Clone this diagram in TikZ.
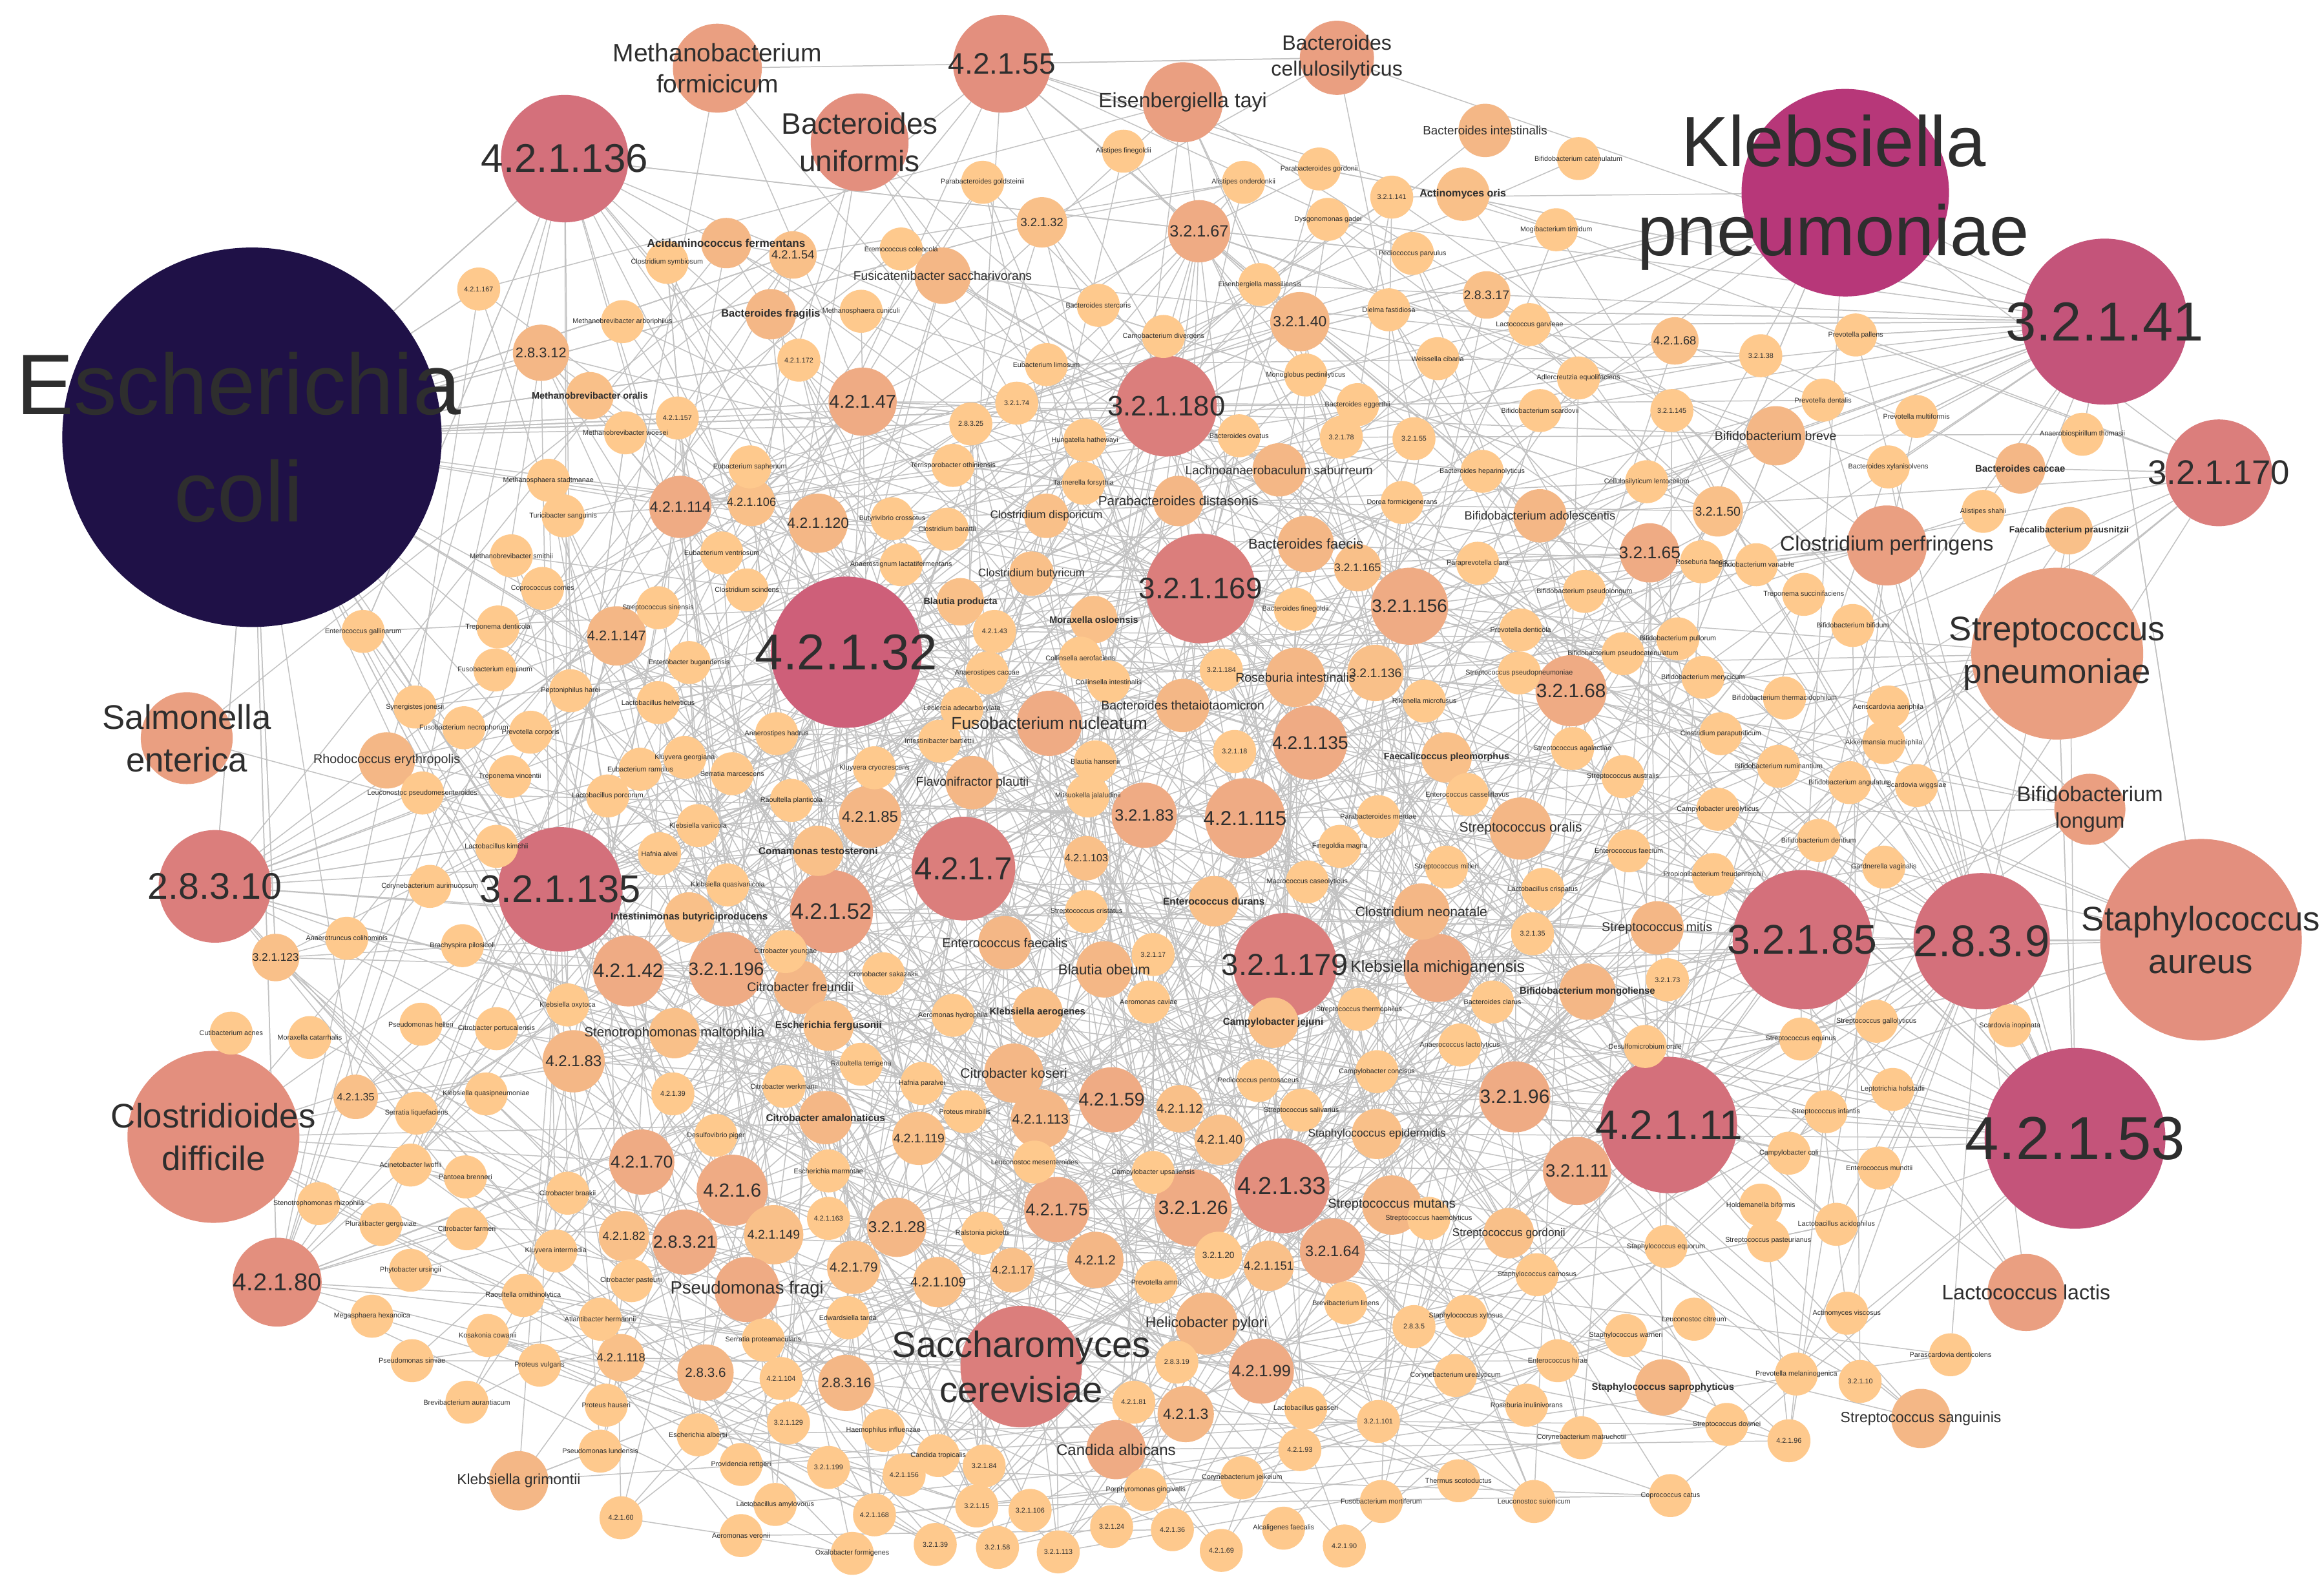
\documentclass[tikz,border=0pt]{standalone}
\usepackage{fontspec}
\setmainfont{Liberation Sans}
\pgfdeclarelayer{bglayer}
\pgfdeclarelayer{edgelayer}
\pgfsetlayers{bglayer,edgelayer,main}
\definecolor{c0}{HTML}{1F1147}
\definecolor{c1}{HTML}{B73779}
\definecolor{c2}{HTML}{C4547A}
\definecolor{c3}{HTML}{CE5F79}
\definecolor{c4}{HTML}{D4707B}
\definecolor{c5}{HTML}{DB7E7C}
\definecolor{c6}{HTML}{E38F7E}
\definecolor{c7}{HTML}{EA9F81}
\definecolor{c8}{HTML}{EFAB84}
\definecolor{c9}{HTML}{F4B786}
\definecolor{c10}{HTML}{F9C089}
\definecolor{c11}{HTML}{FEC98D}
\definecolor{edgecol}{HTML}{C2C2C2}
\definecolor{txt}{HTML}{2E2E2E}
\tikzset{
  bub/.style={circle, draw=none, inner sep=0pt, outer sep=0pt},
  lbl/.style={inner sep=0pt, align=center, text=txt},
  edge/.style={draw=edgecol, line width=0.65pt},
}
\newcount\ncnt \newcount\ecnt \newcount\scnt
% [label x-shift] x y r colour fontsize type(e/s) label
\newcommand\placenode[8][0]{%
  \global\advance\ncnt by 1\relax
  \edef\curname{n\the\ncnt}%
  \node[bub, fill=#5, minimum size={2*#4pt}] (\curname) at (#2,#3) {};
  \expandafter\xdef\csname NX\the\ncnt\endcsname{#2}%
  \expandafter\xdef\csname NY\the\ncnt\endcsname{#3}%
  \expandafter\xdef\csname NLX\the\ncnt\endcsname{\the\numexpr#2+#1\relax}%
  \expandafter\xdef\csname NT\the\ncnt\endcsname{#7}%
  \expandafter\xdef\csname NF\the\ncnt\endcsname{#6}%
  \expandafter\gdef\csname NL\the\ncnt\endcsname{#8}%
  \pgfmathtruncatemacro\wt{max(1,round((#4/15)^2))}%
  \foreach \k in {1,...,\wt}{%
    \if#7e\global\advance\ecnt by 1\relax
      \expandafter\xdef\csname E\the\ecnt\endcsname{\the\ncnt}%
    \else\global\advance\scnt by 1\relax
      \expandafter\xdef\csname S\the\scnt\endcsname{\the\ncnt}\fi}%
}
\newcommand\sn[4]{\placenode{#1}{#2}{14.5}{c11}{4.7}{#3}{#4}}
\begin{document}
\begin{tikzpicture}[x=1pt,y=-1pt]
\begin{pgfonlayer}{bglayer}
\path[use as bounding box, fill=white] (0,0) rectangle (1568,1075);
\end{pgfonlayer}
% ---------- large and medium nodes ----------
\placenode[-9]{170}{295}{128}{c0}{58}{s}{Escherichia\\coli}
\placenode[-8]{1245}{130}{70}{c1}{48}{s}{Klebsiella\\pneumoniae}
\placenode{1420}{217}{56}{c2}{37}{e}{3.2.1.41}
\placenode{1400}{768}{61}{c2}{41}{e}{4.2.1.53}
\placenode{571}{440}{51}{c3}{34}{e}{4.2.1.32}
\placenode{381}{107}{43}{c4}{27}{e}{4.2.1.136}
\placenode{378}{600}{42}{c4}{26}{e}{3.2.1.135}
\placenode{145}{598}{38}{c5}{25}{e}{2.8.3.10}
\placenode{1216}{634}{47}{c4}{28}{e}{3.2.1.85}
\placenode{1337}{635}{46}{c4}{30}{e}{2.8.3.9}
\placenode{1126}{759}{46}{c4}{28}{e}{4.2.1.11}
\placenode{1497}{319}{36}{c5}{23}{e}{3.2.1.170}
\placenode{689}{922}{41}{c5}{24.5}{s}{Saccharomyces\\cerevisiae}
\placenode{1485}{634}{68}{c6}{23}{s}{Staphylococcus\\aureus}
\placenode{144}{767}{58}{c6}{23}{s}{Clostridioides\\difficile}
\placenode{1388}{441}{58}{c7}{23}{s}{Streptococcus\\pneumoniae}
\placenode{126}{498}{31}{c7}{23}{s}{Salmonella\\enterica}
\placenode{484}{46}{30}{c7}{17}{s}{Methanobacterium\\formicicum}
\placenode{676}{43}{33}{c6}{20}{e}{4.2.1.55}
\placenode{580}{96}{33}{c6}{20}{s}{Bacteroides\\uniformis}
\placenode{798}{69}{27}{c7}{14}{s}{Eisenbergiella tayi}
\placenode{902}{39}{25}{c7}{14}{s}{Bacteroides\\cellulosilyticus}
\placenode{787}{274}{34}{c5}{19}{e}{3.2.1.180}
\placenode{810}{397}{37}{c5}{20}{e}{3.2.1.169}
\placenode{650}{586}{35}{c5}{21.5}{e}{4.2.1.7}
\placenode{867}{651}{35}{c5}{20.5}{e}{3.2.1.179}
\placenode{561}{615}{28}{c7}{15}{e}{4.2.1.52}
\placenode{865}{800}{32}{c6}{16.5}{e}{4.2.1.33}
\placenode{1367}{872}{26}{c7}{14}{s}{Lactococcus lactis}
\placenode{1410}{546}{24}{c7}{14.3}{s}{Bifidobacterium\\longum}
\placenode{1273}{368}{27}{c7}{14}{s}{Clostridium perfringens}
\placenode{187}{865}{30}{c6}{16.5}{e}{4.2.1.80}
\placenode{851}{925}{22}{c8}{11}{e}{4.2.1.99}
\placenode{1296}{957}{20}{c9}{10}{s}{Streptococcus sanguinis}
\placenode{350}{999}{20}{c9}{10}{s}{Klebsiella grimontii}
\placenode{753}{978}{20}{c8}{10.5}{s}{Candida albicans}
\placenode{1022}{740}{24}{c8}{13}{e}{3.2.1.96}
\placenode{1064}{790}{23}{c8}{12}{e}{3.2.1.11}
\placenode{582}{271}{23}{c8}{12.5}{e}{4.2.1.47}
\placenode{809}{156}{21}{c8}{11}{e}{3.2.1.67}
\placenode{877}{217}{20}{c9}{10}{e}{3.2.1.40}
\placenode{365}{238}{19}{c9}{9.5}{e}{2.8.3.12}
\placenode{459}{342}{21}{c8}{10}{e}{4.2.1.114}
\placenode{552}{353}{20}{c9}{10}{e}{4.2.1.120}
\placenode{416}{429}{20}{c9}{9.5}{e}{4.2.1.147}
\placenode{881}{367}{19}{c9}{9.5}{s}{Bacteroides faecis}
\placenode{951}{409}{26}{c8}{12.2}{e}{3.2.1.156}
\placenode{1113}{373}{20}{c8}{11.5}{e}{3.2.1.65}
\placenode{1060}{466}{24}{c8}{13}{e}{3.2.1.68}
\placenode{884}{501}{25}{c8}{12.3}{e}{4.2.1.135}
\placenode{840}{552}{27}{c8}{13.7}{e}{4.2.1.115}
\placenode{772}{550}{22}{c8}{11}{e}{3.2.1.83}
\placenode{587}{551}{21}{c9}{10.5}{e}{4.2.1.85}
\placenode{1026}{559}{21}{c9}{9.2}{s}{Streptococcus oralis}
\placenode{970}{653}{23}{c8}{10.8}{s}{Klebsiella michiganensis}
\placenode{959}{615}{19}{c9}{9.2}{s}{Clostridium neonatale}
\placenode{1118}{626}{18}{c9}{8.6}{s}{Streptococcus mitis}
\placenode{424}{655}{24}{c8}{13}{e}{4.2.1.42}
\placenode{490}{654}{25}{c8}{12.2}{e}{3.2.1.196}
\placenode{387}{716}{21}{c9}{10.5}{e}{4.2.1.83}
\placenode{433}{784}{22}{c8}{11.6}{e}{4.2.1.70}
\placenode{494}{803}{24}{c8}{12.8}{e}{4.2.1.6}
\placenode{462}{838}{22}{c8}{11.8}{e}{2.8.3.21}
\placenode{421}{834}{17}{c10}{8}{e}{4.2.1.82}
\placenode{522}{833}{20}{c10}{8.5}{e}{4.2.1.149}
\placenode{576}{855}{18}{c10}{9}{e}{4.2.1.79}
\placenode{605}{828}{20}{c9}{10.6}{e}{3.2.1.28}
\placenode{633}{865}{17}{c10}{9}{e}{4.2.1.109}
\placenode{504}{870}{22}{c8}{12}{s}{Pseudomonas fragi}
\placenode{476}{926}{19}{c9}{9}{e}{2.8.3.6}
\placenode{571}{933}{19}{c9}{9.3}{e}{2.8.3.16}
\placenode{419}{916}{16}{c10}{8}{e}{4.2.1.118}
\placenode{620}{768}{18}{c10}{8.4}{e}{4.2.1.119}
\placenode{702}{755}{20}{c9}{9.3}{e}{4.2.1.113}
\placenode{750}{742}{22}{c8}{12.3}{e}{4.2.1.59}
\placenode{713}{816}{22}{c8}{11.6}{e}{4.2.1.75}
\placenode{739}{850}{19}{c9}{9}{e}{4.2.1.2}
\placenode{683}{857}{15}{c10}{7.5}{e}{4.2.1.17}
\placenode{796}{748}{16}{c10}{8.5}{e}{4.2.1.12}
\placenode{823}{769}{17}{c10}{8.5}{e}{4.2.1.40}
\placenode{805}{815}{26}{c8}{13}{e}{3.2.1.26}
\placenode{899}{844}{22}{c8}{10.2}{e}{3.2.1.64}
\placenode{856}{854}{17}{c10}{8}{e}{4.2.1.151}
\placenode{822}{847}{16}{c11}{6}{e}{3.2.1.20}
\placenode{814}{893}{21}{c9}{10}{s}{Helicobacter pylori}
\placenode{800}{954}{19}{c9}{10}{e}{4.2.1.3}
\placenode{939}{813}{20}{c9}{8.7}{s}{Streptococcus mutans}
\placenode{240}{740}{15}{c10}{7}{e}{4.2.1.35}
\placenode{186}{646}{16}{c10}{7.5}{e}{3.2.1.123}
\placenode{261}{513}{19}{c9}{8.6}{s}{Rhodococcus erythropolis}
\placenode{465}{619}{17}{c10}{6.6}{s}{\bfseries Intestinimonas butyriciproducens}
\placenode{455}{697}{17}{c10}{9}{s}{Stenotrophomonas maltophilia}
\placenode{535}{172}{16}{c10}{8}{e}{4.2.1.54}
\placenode{703}{150}{17}{c10}{8}{e}{3.2.1.32}
\placenode{1003}{199}{16}{c10}{8.5}{e}{2.8.3.17}
\placenode{1130}{230}{16}{c10}{8}{e}{4.2.1.68}
\placenode{1159}{345}{17}{c10}{8.5}{e}{3.2.1.50}
\placenode{507}{339}{16}{c10}{8}{e}{4.2.1.106}
\placenode{636}{186}{19}{c9}{8.4}{s}{Fusicatenibacter saccharivorans}
\placenode{520}{212}{17}{c9}{7.2}{s}{\bfseries Bacteroides fragilis}
\placenode{863}{317}{18}{c9}{8.3}{s}{Lachnoanaerobaculum saburreum}
\placenode{1039}{348}{18}{c9}{8}{s}{Bifidobacterium adolescentis}
\placenode{1198}{294}{20}{c9}{8.5}{s}{Bifidobacterium breve}
\placenode{798}{476}{18}{c9}{8.5}{s}{Bacteroides thetaiotaomicron}
\placenode{708}{488}{22}{c8}{11.5}{s}{Fusobacterium nucleatum}
\placenode{656}{528}{18}{c9}{8.5}{s}{Flavonifractor plautii}
\placenode{552}{574}{17}{c10}{6.7}{s}{\bfseries Comamonas testosteroni}
\placenode{678}{636}{18}{c9}{8.7}{s}{Enterococcus faecalis}
\placenode{745}{654}{19}{c9}{9.7}{s}{Blautia obeum}
\placenode{540}{666}{18}{c9}{8.5}{s}{Citrobacter freundii}
\placenode{559}{692}{17}{c10}{6.7}{s}{\bfseries Escherichia fergusonii}
\placenode{700}{683}{17}{c10}{6.5}{s}{\bfseries Klebsiella aerogenes}
\placenode{819}{608}{17}{c10}{6.7}{s}{\bfseries Enterococcus durans}
\placenode{859}{690}{17}{c10}{6.7}{s}{\bfseries Campylobacter jejuni}
\placenode{684}{724}{20}{c9}{9.2}{s}{Citrobacter koseri}
\placenode{557}{754}{18}{c9}{6.7}{s}{\bfseries Citrobacter amalonaticus}
\placenode{874}{457}{20}{c9}{8.5}{s}{Roseburia intestinalis}
\placenode{738}{418}{16}{c10}{6.3}{s}{\bfseries Moraxella osloensis}
\placenode{648}{406}{16}{c10}{6.3}{s}{\bfseries Blautia producta}
\placenode{976}{511}{17}{c10}{6.3}{s}{\bfseries Faecalicoccus pleomorphus}
\placenode{1071}{669}{19}{c9}{6.5}{s}{\bfseries Bifidobacterium mongoliense}
\placenode{1122}{936}{19}{c9}{6.5}{s}{\bfseries Staphylococcus saprophyticus}
\placenode{398}{267}{16}{c10}{6.3}{s}{\bfseries Methanobrevibacter oralis}
\placenode{987}{131}{18}{c10}{7}{s}{\bfseries Actinomyces oris}
\placenode{1002}{88}{18}{c9}{8.2}{s}{Bacteroides intestinalis}
\placenode{1363}{316}{17}{c9}{6.5}{s}{\bfseries Bacteroides caccae}
\placenode{1396}{358}{16}{c10}{6}{s}{\bfseries Faecalibacterium prausnitzii}
\placenode{490}{164}{17}{c9}{7.5}{s}{\bfseries Acidaminococcus fermentans}
\placenode{706}{348}{15}{c10}{7.5}{s}{Clostridium disporicum}
\placenode{795}{338}{17}{c9}{9}{s}{Parabacteroides distasonis}
\placenode{916}{383}{16}{c10}{7.5}{e}{3.2.1.165}
\placenode{928}{454}{19}{c10}{8.5}{e}{3.2.1.136}
\placenode{733}{579}{15}{c10}{7}{e}{4.2.1.103}
\placenode{1018}{832}{17}{c10}{7.5}{s}{Streptococcus gordonii}
\placenode{929}{765}{17}{c10}{7.5}{s}{Staphylococcus epidermidis}
\placenode{696}{387}{15}{c10}{7.5}{s}{Clostridium butyricum}
% ---------- small nodes ----------
\sn{323}{195}{e}{4.2.1.167}
\sn{370}{324}{s}{Methanosphaera stadtmanae}
\sn{380}{348}{s}{Turicibacter sanguinis}
\sn{758}{102}{s}{Alistipes finegoldii}
\sn{663}{123}{s}{Parabacteroides goldsteinii}
\sn{450}{177}{s}{Clostridium symbiosum}
\sn{608}{168}{s}{Eremococcus coleocola}
\sn{581}{210}{s}{Methanosphaera cuniculi}
\sn{420}{217}{s}{Methanobrevibacter arboriphilus}
\sn{741}{206}{s}{Bacteroides stercoris}
\sn{785}{227}{s}{Carnobacterium divergens}
\sn{539}{243}{e}{4.2.1.172}
\sn{706}{246}{s}{Eubacterium limosum}
\sn{686}{272}{e}{3.2.1.74}
\sn{655}{286}{e}{2.8.3.25}
\sn{732}{297}{s}{Hungatella hathewayi}
\sn{457}{282}{e}{4.2.1.157}
\sn{422}{292}{s}{Methanobrevibacter woesei}
\sn{506}{315}{s}{Eubacterium saphenum}
\sn{643}{314}{s}{Terrisporobacter othiniensis}
\sn{731}{326}{s}{Tannerella forsythia}
\sn{602}{350}{s}{Butyrivibrio crossotus}
\sn{639}{357}{s}{Clostridium barattii}
\sn{1065}{107}{s}{Bifidobacterium catenulatum}
\sn{839}{123}{s}{Alistipes onderdonkii}
\sn{890}{114}{s}{Parabacteroides gordonii}
\sn{939}{133}{e}{3.2.1.141}
\sn{896}{148}{s}{Dysgonomonas gadei}
\sn{1050}{155}{s}{Mogibacterium timidum}
\sn{953}{171}{s}{Pediococcus parvulus}
\sn{850}{192}{s}{Eisenbergiella massiliensis}
\sn{937}{209}{s}{Dielma fastidiosa}
\sn{1032}{219}{s}{Lactococcus garvieae}
\sn{970}{242}{s}{Weissella cibaria}
\sn{881}{253}{s}{Monoglobus pectinilyticus}
\sn{1065}{255}{s}{Adlercreutzia equolifaciens}
\sn{916}{273}{s}{Bacteroides eggerthii}
\sn{1039}{277}{s}{Bifidobacterium scardovii}
\sn{1128}{277}{e}{3.2.1.145}
\sn{836}{294}{s}{Bacteroides ovatus}
\sn{905}{295}{e}{3.2.1.78}
\sn{954}{296}{e}{3.2.1.55}
\sn{1000}{318}{s}{Bacteroides heparinolyticus}
\sn{1111}{325}{s}{Cellulosilyticum lentocellum}
\sn{946}{339}{s}{Dorea formicigenerans}
\sn{1188}{240}{e}{3.2.1.38}
\sn{1252}{226}{s}{Prevotella pallens}
\sn{1230}{270}{s}{Prevotella dentalis}
\sn{1293}{281}{s}{Prevotella multiformis}
\sn{1405}{293}{s}{Anaerobiospirillum thomasii}
\sn{1274}{315}{s}{Bacteroides xylanisolvens}
\sn{1338}{345}{s}{Alistipes shahii}
\sn{345}{375}{s}{Methanobrevibacter smithii}
\sn{366}{397}{s}{Coprococcus comes}
\sn{245}{426}{s}{Enterococcus gallinarum}
\sn{336}{423}{s}{Treponema denticola}
\sn{334}{452}{s}{Fusobacterium equinum}
\sn{385}{466}{s}{Peptoniphilus harei}
\sn{280}{477}{s}{Synergistes jonesii}
\sn{313}{491}{s}{Fusobacterium necrophorum}
\sn{358}{494}{s}{Prevotella corporis}
\sn{344}{524}{s}{Treponema vincentii}
\sn{285}{535}{s}{Leuconostoc pseudomesenteroides}
\sn{335}{571}{s}{Lactobacillus kimchii}
\sn{290}{598}{s}{Corynebacterium aurimucosum}
\sn{234}{633}{s}{Anaerotruncus colihominis}
\sn{312}{638}{s}{Brachyspira pilosicoli}
\sn{156}{697}{s}{Cutibacterium acnes}
\sn{209}{700}{s}{Moraxella catarrhalis}
\sn{284}{691}{s}{Pseudomonas helleri}
\sn{335}{694}{s}{Citrobacter portucalensis}
\sn{383}{678}{s}{Klebsiella oxytoca}
\sn{487}{373}{s}{Eubacterium ventriosum}
\sn{608}{381}{s}{Anaerostignum lactatifermentans}
\sn{504}{398}{s}{Clostridium scindens}
\sn{444}{410}{s}{Streptococcus sinensis}
\sn{671}{426}{e}{4.2.1.43}
\sn{729}{444}{s}{Collinsella aerofaciens}
\sn{748}{460}{s}{Collinsella intestinalis}
\sn{465}{447}{s}{Enterobacter bugandensis}
\sn{666}{454}{s}{Anaerostipes caccae}
\sn{444}{474}{s}{Lactobacillus helveticus}
\sn{649}{478}{s}{Leclercia adecarboxylata}
\sn{524}{495}{s}{Anaerostipes hadrus}
\sn{634}{500}{s}{Intestinibacter bartlettii}
\sn{462}{511}{s}{Kluyvera georgiana}
\sn{432}{519}{s}{Eubacterium ramulus}
\sn{494}{522}{s}{Serratia marcescens}
\sn{590}{518}{s}{Kluyvera cryocrescens}
\sn{739}{514}{s}{Blautia hansenii}
\sn{410}{537}{s}{Lactobacillus porcorum}
\sn{534}{540}{s}{Raoultella planticola}
\sn{734}{537}{s}{Mitsuokella jalaludinii}
\sn{471}{557}{s}{Klebsiella variicola}
\sn{445}{576}{s}{Hafnia alvei}
\sn{491}{597}{s}{Klebsiella quasivariicola}
\sn{733}{615}{s}{Streptococcus cristatus}
\sn{530}{642}{s}{Citrobacter youngae}
\sn{596}{657}{s}{Cronobacter sakazakii}
\sn{778}{644}{e}{3.2.1.17}
\sn{643}{685}{s}{Aeromonas hydrophila}
\sn{775}{676}{s}{Aeromonas caviae}
\sn{997}{380}{s}{Paraprevotella clara}
\sn{1148}{379}{s}{Roseburia faecis}
\sn{874}{411}{s}{Bacteroides finegoldii}
\sn{1069}{399}{s}{Bifidobacterium pseudolongum}
\sn{1026}{425}{s}{Prevotella denticola}
\sn{1132}{431}{s}{Bifidobacterium pullorum}
\sn{1095}{441}{s}{Bifidobacterium pseudocatenulatum}
\sn{1149}{457}{s}{Bifidobacterium merycicum}
\sn{824}{452}{e}{3.2.1.184}
\sn{1025}{454}{s}{Streptococcus pseudopneumoniae}
\sn{961}{473}{s}{Rikenella microfusus}
\sn{833}{507}{e}{3.2.1.18}
\sn{1061}{505}{s}{Streptococcus agalactiae}
\sn{1095}{524}{s}{Streptococcus australis}
\sn{990}{536}{s}{Enterococcus casseliflavus}
\sn{1161}{495}{s}{Clostridium paraputrificum}
\sn{1159}{546}{s}{Campylobacter ureolyticus}
\sn{930}{551}{s}{Parabacteroides merdae}
\sn{904}{571}{s}{Finegoldia magna}
\sn{1099}{574}{s}{Enterococcus faecium}
\sn{976}{585}{s}{Streptococcus milleri}
\sn{1156}{590}{s}{Propionibacterium freudenreichii}
\sn{882}{595}{s}{Macrococcus caseolyticus}
\sn{1041}{600}{s}{Lactobacillus crispatus}
\sn{1034}{630}{e}{3.2.1.35}
\sn{1125}{661}{e}{3.2.1.73}
\sn{1007}{676}{s}{Bacteroides clarus}
\sn{917}{681}{s}{Streptococcus thermophilus}
\sn{985}{705}{s}{Anaerococcus lactolyticus}
\sn{1110}{706}{s}{Desulfomicrobium orale}
\sn{1185}{381}{s}{Bifidobacterium variabile}
\sn{1217}{401}{s}{Treponema succinifaciens}
\sn{1250}{422}{s}{Bifidobacterium bifidum}
\sn{1204}{471}{s}{Bifidobacterium thermacidophilum}
\sn{1274}{477}{s}{Aeriscardovia aeriphila}
\sn{1271}{501}{s}{Akkermansia muciniphila}
\sn{1200}{517}{s}{Bifidobacterium ruminantium}
\sn{1248}{528}{s}{Bifidobacterium angulatum}
\sn{1293}{530}{s}{Scardovia wiggsiae}
\sn{1227}{567}{s}{Bifidobacterium dentium}
\sn{1271}{585}{s}{Gardnerella vaginalis}
\sn{1266}{689}{s}{Streptococcus gallolyticus}
\sn{1356}{692}{s}{Scardovia inopinata}
\sn{1215}{701}{s}{Streptococcus equinus}
\sn{328}{738}{s}{Klebsiella quasipneumoniae}
\sn{281}{751}{s}{Serratia liquefaciens}
\sn{277}{786}{s}{Acinetobacter lwoffii}
\sn{314}{794}{s}{Pantoea brenneri}
\sn{383}{805}{s}{Citrobacter braakii}
\sn{215}{812}{s}{Stenotrophomonas rhizophila}
\sn{257}{826}{s}{Pluralibacter gergoviae}
\sn{315}{829}{s}{Citrobacter farmeri}
\sn{375}{844}{s}{Kluyvera intermedia}
\sn{277}{857}{s}{Phytobacter ursingii}
\sn{353}{874}{s}{Raoultella ornithinolytica}
\sn{251}{888}{s}{Megasphaera hexanoica}
\sn{405}{890}{s}{Atlantibacter hermannii}
\sn{329}{901}{s}{Kosakonia cowanii}
\sn{278}{918}{s}{Pseudomonas simiae}
\sn{364}{921}{s}{Proteus vulgaris}
\sn{315}{946}{s}{Brevibacterium aurantiacum}
\sn{581}{718}{s}{Raoultella terrigena}
\sn{454}{738}{e}{4.2.1.39}
\sn{529}{733}{s}{Citrobacter werkmanii}
\sn{622}{731}{s}{Hafnia paralvei}
\sn{651}{750}{s}{Proteus mirabilis}
\sn{483}{766}{s}{Desulfovibrio piger}
\sn{559}{790}{s}{Escherichia marmotae}
\sn{698}{784}{s}{Leuconostoc mesenteroides}
\sn{778}{791}{s}{Campylobacter upsaliensis}
\sn{559}{822}{e}{4.2.1.163}
\sn{663}{832}{s}{Ralstonia pickettii}
\sn{780}{865}{s}{Prevotella amnii}
\sn{426}{864}{s}{Citrobacter pasteurii}
\sn{572}{889}{s}{Edwardsiella tarda}
\sn{515}{904}{s}{Serratia proteamaculans}
\sn{527}{930}{e}{4.2.1.104}
\sn{765}{946}{e}{4.2.1.81}
\sn{409}{948}{s}{Proteus hauseri}
\sn{532}{960}{e}{3.2.1.129}
\sn{471}{968}{s}{Escherichia albertii}
\sn{596}{965}{s}{Haemophilus influenzae}
\sn{633}{982}{s}{Candida tropicalis}
\sn{664}{989}{e}{3.2.1.84}
\sn{405}{979}{s}{Pseudomonas lundensis}
\sn{500}{988}{s}{Providencia rettgeri}
\sn{559}{990}{e}{3.2.1.199}
\sn{610}{995}{e}{4.2.1.156}
\sn{773}{1005}{s}{Porphyromonas gingivalis}
\sn{419}{1024}{e}{4.2.1.60}
\sn{523}{1015}{s}{Lactobacillus amylovorus}
\sn{590}{1022}{e}{4.2.1.168}
\sn{659}{1016}{e}{3.2.1.15}
\sn{695}{1019}{e}{3.2.1.106}
\sn{750}{1030}{e}{3.2.1.24}
\sn{500}{1036}{s}{Aeromonas veronii}
\sn{575}{1048}{s}{Oxalobacter formigenes}
\sn{631}{1042}{e}{3.2.1.39}
\sn{673}{1044}{e}{3.2.1.58}
\sn{714}{1047}{e}{3.2.1.113}
\sn{849}{729}{s}{Pediococcus pentosaceus}
\sn{929}{723}{s}{Campylobacter concisus}
\sn{878}{749}{s}{Streptococcus salivarius}
\sn{964}{822}{s}{Streptococcus haemolyticus}
\sn{1124}{841}{s}{Staphylococcus equorum}
\sn{1037}{860}{s}{Staphylococcus carnosus}
\sn{908}{879}{s}{Brevibacterium linens}
\sn{954}{895}{e}{2.8.3.5}
\sn{989}{888}{s}{Staphylococcus xylosus}
\sn{1143}{890}{s}{Leuconostoc citreum}
\sn{1097}{901}{s}{Staphylococcus warneri}
\sn{1051}{918}{s}{Enterococcus hirae}
\sn{794}{919}{e}{2.8.3.19}
\sn{982}{928}{s}{Corynebacterium urealyticum}
\sn{881}{950}{s}{Lactobacillus gasseri}
\sn{930}{959}{e}{3.2.1.101}
\sn{1030}{948}{s}{Roseburia inulinivorans}
\sn{1165}{961}{s}{Streptococcus downei}
\sn{1067}{970}{s}{Corynebacterium matruchotii}
\sn{877}{978}{e}{4.2.1.93}
\sn{838}{997}{s}{Corynebacterium jeikeium}
\sn{984}{999}{s}{Thermus scotoductus}
\sn{932}{1013}{s}{Fusobacterium mortiferum}
\sn{1035}{1013}{s}{Leuconostoc suionicum}
\sn{1127}{1009}{s}{Coprococcus catus}
\sn{791}{1032}{e}{4.2.1.36}
\sn{866}{1031}{s}{Alcaligenes faecalis}
\sn{824}{1046}{e}{4.2.1.69}
\sn{907}{1043}{e}{4.2.1.90}
\sn{1277}{735}{s}{Leptotrichia hofstadii}
\sn{1232}{750}{s}{Streptococcus infantis}
\sn{1207}{778}{s}{Campylobacter coli}
\sn{1268}{788}{s}{Enterococcus mundtii}
\sn{1188}{813}{s}{Holdemanella biformis}
\sn{1193}{837}{s}{Streptococcus pasteurianus}
\sn{1239}{826}{s}{Lactobacillus acidophilus}
\sn{1246}{886}{s}{Actinomyces viscosus}
\sn{1316}{914}{s}{Parascardovia denticolens}
\sn{1212}{927}{s}{Prevotella melaninogenica}
\sn{1255}{932}{e}{3.2.1.10}
\sn{1207}{972}{e}{4.2.1.96}
% ---------- labels (on top of all circles) ----------
\edef\Ntot{\the\ncnt}\edef\Etot{\the\ecnt}\edef\Stot{\the\scnt}
\foreach \i in {1,...,\Ntot}{%
  \edef\lx{\csname NLX\i\endcsname}\edef\ly{\csname NY\i\endcsname}%
  \edef\lf{\csname NF\i\endcsname}%
  \pgfmathsetmacro\bskip{\lf*1.25}%
  \node[lbl, font=\fontsize{\lf}{\bskip}\selectfont] (l\i) at (\lx,\ly) {\csname NL\i\endcsname};
}
% ---------- connectors (species <-> EC number) ----------
\pgfmathsetseed{4242}
\begin{pgfonlayer}{edgelayer}
\foreach \i in {1,...,\Ntot}{%
  \edef\ty{\csname NT\i\endcsname}%
  \if\ty e\def\npick{8}\def\tot{\Stot}\def\pre{S}\else\def\npick{5}\def\tot{\Etot}\def\pre{E}\fi
  \edef\xa{\csname NX\i\endcsname}\edef\ya{\csname NY\i\endcsname}%
  \foreach \p in {1,...,\npick}{%
    \pgfmathrandominteger{\k}{1}{\tot}%
    \edef\j{\csname\pre\k\endcsname}%
    \edef\xb{\csname NX\j\endcsname}\edef\yb{\csname NY\j\endcsname}%
    \ifnum\numexpr(\xa-\xb)*(\xa-\xb)+(\ya-\yb)*(\ya-\yb)\relax<384400
      \draw[edge] (n\i) -- (n\j);
    \fi}%
}
\end{pgfonlayer}
\end{tikzpicture}
\end{document}
